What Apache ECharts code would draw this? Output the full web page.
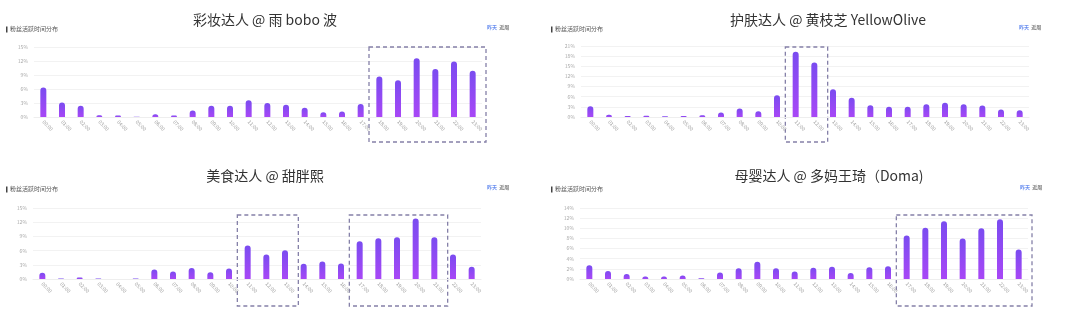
<!DOCTYPE html>
<html>
<head>
<meta charset="utf-8">
<script src="https://cdn.jsdelivr.net/npm/echarts@6/dist/echarts.min.js"></script>
<style>
html,body{margin:0;padding:0;background:#fff;}
#main{width:1080px;height:311px;}
</style>
</head>
<body>
<div id="main"></div>
<script>
// 时间段 00:00 - 23:00
var hours = [];
for (var h = 0; h < 24; h++) { hours.push((h < 10 ? '0' + h : '' + h) + ':00'); }

var titles = ['彩妆达人 @ 雨 bobo 波', '护肤达人 @ 黄枝芝 YellowOlive', '美食达人 @ 甜胖熙', '母婴达人 @ 多妈王琦（Doma)'];

// 粉丝活跃占比 (%)
var makeupData = [6.3, 3.1, 2.4, 0.4, 0.3, 0.05, 0.6, 0.3, 1.4, 2.4, 2.4, 3.6, 3.0, 2.6, 2.0, 1.0, 1.2, 2.8, 8.7, 7.9, 12.6, 10.3, 11.9, 9.9];
var skinData = [3.2, 0.7, 0.3, 0.4, 0.2, 0.3, 0.5, 1.3, 2.5, 1.7, 6.4, 19.3, 16.1, 8.2, 5.7, 3.5, 3.0, 3.0, 3.8, 4.2, 3.8, 3.4, 2.2, 2.0];
var foodData = [1.3, 0.1, 0.3, 0.1, 0, 0.1, 2.0, 1.6, 2.3, 1.4, 2.2, 7.1, 5.2, 6.1, 3.2, 3.7, 3.3, 8.0, 8.6, 8.8, 12.8, 8.8, 5.2, 2.6];
var babyData = [2.7, 1.6, 1.0, 0.5, 0.5, 0.7, 0.15, 1.3, 2.1, 3.4, 2.1, 1.5, 2.2, 2.4, 1.2, 2.3, 2.5, 8.6, 10.1, 11.4, 8.0, 10.0, 11.8, 5.8];

// y轴刻度
var yMax = [15, 21, 15, 14];
var yStep = [3, 3, 3, 2];

// 虚线框 [图表序号, 起始时段, 结束时段]
var boxes = [[0, 18, 23], [1, 11, 12], [2, 11, 13], [2, 17, 21], [3, 17, 23]];

var allData = [makeupData, skinData, foodData, babyData];
var grids = [
  {left: 34, top: 47, width: 448, height: 70},
  {left: 581, top: 46, width: 448, height: 71},
  {left: 33, top: 208, width: 448, height: 71},
  {left: 580, top: 208, width: 448, height: 71}
];
var titlePos = [[265, 13], [828, 13], [265, 169], [829, 169]];
var subPos = [[6, 26], [551, 26], [6, 186], [551, 186]];
var tabPos = [[487, 25], [1019, 25], [487, 185], [1020, 185]];

var font = '"Noto Sans CJK SC", "Noto Sans", sans-serif';
var myChart = echarts.init(document.getElementById('main'));

var titleArr = [], xAxes = [], yAxes = [], series = [];
for (var i = 0; i < 4; i++) {
  titleArr.push({
    text: titles[i], left: titlePos[i][0], top: titlePos[i][1], textAlign: 'center', padding: 0,
    textStyle: {fontSize: 14, fontWeight: 'normal', color: '#333', fontFamily: font}
  });
  titleArr.push({
    text: '粉丝活跃时间分布', left: subPos[i][0] + 4, top: subPos[i][1], padding: 0,
    textStyle: {fontSize: 6, fontWeight: 'normal', color: '#555', fontFamily: font}
  });
  titleArr.push({
    text: '{a|昨天}  {b|近周}', left: tabPos[i][0], top: tabPos[i][1], padding: 0,
    textStyle: {fontSize: 5, fontFamily: font, rich: {a: {fontSize: 5, color: '#6a8ff0'}, b: {fontSize: 5, color: '#777'}}}
  });
  xAxes.push({
    type: 'category', gridIndex: i, data: hours,
    axisLine: {lineStyle: {color: '#eee'}},
    axisTick: {show: false},
    axisLabel: {interval: 0, rotate: -45, fontSize: 5, color: '#999', margin: 4, fontFamily: font}
  });
  yAxes.push({
    type: 'value', gridIndex: i, min: 0, max: yMax[i], interval: yStep[i],
    axisLabel: {formatter: '{value}%', fontSize: 5, color: '#aaa', margin: 6, fontFamily: font},
    splitLine: {lineStyle: {color: '#f2f2f2'}},
    axisLine: {show: false}, axisTick: {show: false}
  });
  series.push({
    type: 'bar', xAxisIndex: i, yAxisIndex: i, data: allData[i], barWidth: 6,
    itemStyle: {
      borderRadius: [3, 3, 0, 0],
      color: new echarts.graphic.LinearGradient(0, 0, 0, 1, [
        {offset: 0, color: '#7a4cf0'}, {offset: 1, color: '#a847f6'}
      ])
    }
  });
}

myChart.setOption({
  backgroundColor: '#fff',
  animation: false,
  title: titleArr,
  grid: grids,
  xAxis: xAxes,
  yAxis: yAxes,
  series: series
});

// 小竖条和虚线框
var graphics = [];
for (var i = 0; i < 4; i++) {
  graphics.push({type: 'rect', shape: {x: subPos[i][0], y: subPos[i][1] + 0.5, width: 1.5, height: 6}, style: {fill: '#444'}});
}
var boxTop = [47, 47, 215, 215];
var boxBottom = [142, 142, 306, 306];
boxes.forEach(function (b) {
  var g = b[0];
  var p0 = myChart.convertToPixel({xAxisIndex: g}, hours[0]);
  var p1 = myChart.convertToPixel({xAxisIndex: g}, hours[1]);
  var half = (p1 - p0) / 2;
  var x1 = myChart.convertToPixel({xAxisIndex: g}, hours[b[1]]) - half - 1;
  var x2 = myChart.convertToPixel({xAxisIndex: g}, hours[b[2]]) + half + 4;
  graphics.push({
    type: 'rect',
    shape: {x: x1, y: boxTop[g], width: x2 - x1, height: boxBottom[g] - boxTop[g]},
    style: {fill: 'none', stroke: '#8580a8', lineWidth: 1.3, lineDash: [4, 3]}
  });
});
myChart.setOption({graphic: graphics});
</script>
</body>
</html>
